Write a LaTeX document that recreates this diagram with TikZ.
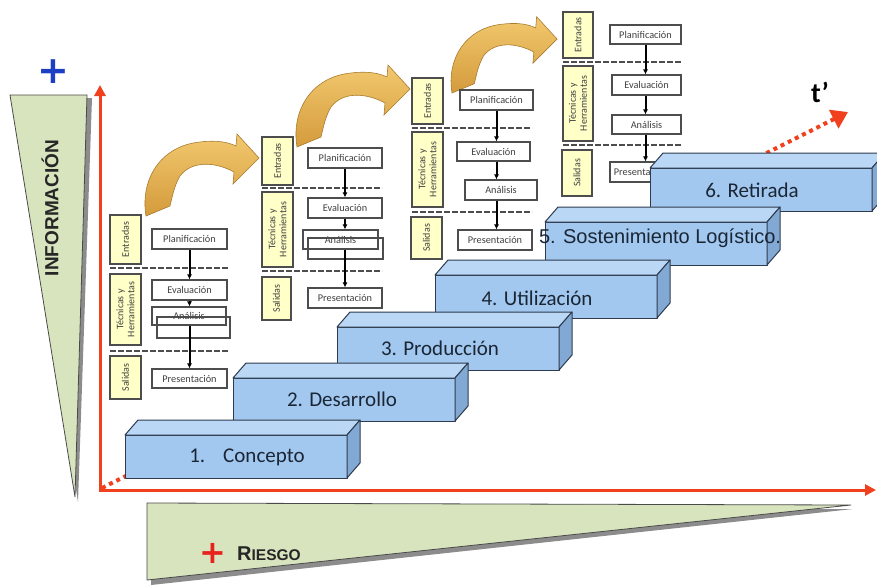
\documentclass[tikz,border=0pt]{standalone}
\usepackage{fontspec}
\setmainfont{Carlito}
\newfontfamily\arialfont{Liberation Sans}
\newfontfamily\dvfont{DejaVu Sans}
\usetikzlibrary{arrows.meta}
\definecolor{axisred}{HTML}{F0401E}
\definecolor{trifill}{HTML}{D7E4BD}
\definecolor{triedge}{HTML}{4A4A4A}
\definecolor{shadowgray}{HTML}{8C8C8C}
\definecolor{stepfront}{HTML}{A2C8F0}
\definecolor{steptop}{HTML}{BAD7F6}
\definecolor{stepside}{HTML}{82A9D4}
\definecolor{stepedge}{HTML}{2E3B4E}
\definecolor{steptext}{HTML}{1B2635}
\definecolor{boxedge}{HTML}{4D4D4D}
\definecolor{boxtext}{HTML}{404040}
\definecolor{labelfill}{HTML}{FFFFC8}
\definecolor{arrowlight}{HTML}{F2C86E}
\definecolor{arrowdark}{HTML}{D49B3C}
\definecolor{arrowedge}{HTML}{A87C30}
\definecolor{plusblue}{HTML}{1C3FC4}
\definecolor{plusred}{HTML}{E8231E}

\tikzset{
 procbox/.style={draw=boxedge, line width=1.1pt, fill=white, inner sep=0pt, text=boxtext, font=\fontsize{10.3}{12}\selectfont},
 ghostbox/.style={draw=boxedge, line width=1.1pt, inner sep=0pt},
 labelbox/.style={draw=boxedge, line width=1.1pt, fill=labelfill, inner sep=0pt, text=boxtext, rotate=90, align=center, font=\fontsize{10}{11}\selectfont},
 sepline/.style={draw=boxedge, line width=1.6pt, dash pattern=on 6pt off 2pt},
 flowarrow/.style={draw=black, line width=2pt, -{Latex[length=5pt,width=5pt]}},
 stepface/.style={draw=stepedge, line width=1pt, line join=round},
 steplabel/.style={text=steptext, font=\fontsize{21}{25}\selectfont},
 curvearrow/.style={draw=arrowedge, line width=0.6pt, top color=arrowlight, bottom color=arrowdark},
 axisline/.style={draw=axisred, line width=3pt},
}

\newcommand\pbox[6]{\node[procbox, minimum width={#4-#2}, minimum height={#5-#3}] (#1) at ({(#2+#4)/2},{(#3+#5)/2}) {#6};}
\newcommand\gbox[5]{\node[ghostbox, minimum width={#4-#2}, minimum height={#5-#3}] (#1) at ({(#2+#4)/2},{(#3+#5)/2}) {};}
\newcommand\lbox[6]{\node[labelbox, minimum width={#5-#3}, minimum height={#4-#2}] (#1) at ({(#2+#4)/2},{(#3+#5)/2}) {#6};}
\newcommand\curvedarrowshape{%
 \path[curvearrow] (0,0) .. controls (-6,-36) and (14,-70) .. (54,-74)
   .. controls (70,-76) and (82,-74) .. (90,-70) -- (91,-82) -- (113,-58) -- (87,-32) -- (88,-44)
   .. controls (70,-54) and (46,-56) .. (34,-40) .. controls (28,-30) and (26,-18) .. (24,-10) -- cycle;}

\begin{document}
\begin{tikzpicture}[x=1pt,y=-1pt]
\useasboundingbox (0,0) rectangle (877,584);
\clip (0,0) rectangle (877,584);

% left triangle
\fill[shadowgray] (14,98) -- (92,98) -- (78,502) -- cycle;
\filldraw[fill=trifill, draw=triedge, line width=0.8pt] (10,95) -- (87,95) -- (75,497) -- cycle;
\node[rotate=90, font=\arialfont\bfseries\fontsize{19}{22}\selectfont, text=black!85] (info) at (50,208) {INFORMACIÓN};
\node[text=plusblue, font=\dvfont\bfseries\fontsize{38}{38}\selectfont, inner sep=0] (plusb) at (53.5,71.5) {+};

% bottom triangle
\fill[shadowgray] (151,509) -- (853,509) -- (151,585) -- cycle;
\filldraw[fill=trifill, draw=triedge, line width=0.8pt] (147,503) -- (851,505) -- (147,580) -- cycle;
\node[text=plusred, font=\dvfont\bfseries\fontsize{32}{32}\selectfont, inner sep=0] (plusr) at (213,553) {+};
\node[anchor=west, inner sep=0, text=black!85] (riesgo) at (237,554) {\arialfont\bfseries\fontsize{20}{22}\selectfont R\fontsize{15.5}{22}\selectfont IESGO};

% axes
\draw[axisline, -{Triangle[length=11pt,width=11pt]}] (100,492) -- (100,85);
\draw[axisline, -{Triangle[length=11pt,width=11pt]}] (98.5,490) -- (876,490);
\draw[draw=axisred, line width=4pt, dash pattern=on 4pt off 4pt, -{Triangle[length=16pt,width=20pt]}] (102,488) -- (848,112);
\node[font=\bfseries\fontsize{28}{30}\selectfont] (tprime) at (820,92) {t’};

% curved arrows
\begin{scope}[shift={(146,216)}]\curvedarrowshape\end{scope}
\begin{scope}[shift={(297,147)}]\curvedarrowshape\end{scope}
\begin{scope}[shift={(452,93)}, scale=0.93]\curvedarrowshape\end{scope}

% group 1
\draw[sepline] (110,268) -- (229,268);
\draw[sepline] (110,351) -- (229,351);
\lbox{e1}{110}{215}{141}{264}{Entradas}
\lbox{t1}{110}{274}{141}{345}{Técnicas y\\Herramientas}
\lbox{o1}{110}{356}{141}{399}{Salidas}
\pbox{p1}{152}{229}{227}{249}{Planificación}
\pbox{v1}{152}{280}{227}{300}{Evaluación}
\pbox{a1}{152}{307}{226}{325}{Análisis}
\gbox{g1}{157}{317}{230}{338}
\pbox{r1}{152}{369}{227}{388}{Presentación}
\draw[flowarrow] (p1.south) -- (p1.south |- v1.north);
\draw[flowarrow] (v1.south -| p1.south) -- (p1.south |- a1.north);
\draw[flowarrow] (a1.south -| p1.south) -- (p1.south |- r1.north);

% group 2
\draw[sepline] (262,188) -- (382,188);
\draw[sepline] (262,271) -- (382,271);
\lbox{e2}{262}{137}{293}{185}{Entradas}
\lbox{t2}{262}{192}{293}{267}{Técnicas y\\Herramientas}
\lbox{o2}{262}{277}{291}{320}{Salidas}
\pbox{p2}{308}{148}{382}{168}{Planificación}
\pbox{v2}{308}{198}{382}{218}{Evaluación}
\pbox{a2}{303}{230}{378}{249}{Análisis}
\gbox{g2}{308}{238}{383}{259}
\pbox{r2}{308}{288}{382}{308}{Presentación}
\draw[flowarrow] (p2.south) -- (p2.south |- v2.north);
\draw[flowarrow] (v2.south -| p2.south) -- (p2.south |- a2.north);
\draw[flowarrow] (a2.south -| p2.south) -- (p2.south |- r2.north);

% group 3
\draw[sepline] (412,128) -- (532,128);
\draw[sepline] (412,212) -- (532,212);
\lbox{e3}{412}{78}{443}{124}{Entradas}
\lbox{t3}{412}{132}{443}{207}{Técnicas y\\Herramientas}
\lbox{o3}{411}{217}{442}{259}{Salidas}
\pbox{p3}{460}{90}{533}{110}{Planificación}
\pbox{v3}{457}{142}{530}{161}{Evaluación}
\pbox{a3}{465}{180}{537}{200}{Análisis}
\pbox{r3}{458}{230}{532}{250}{Presentación}
\draw[flowarrow] (p3.south) -- (p3.south |- v3.north);
\draw[flowarrow] (v3.south -| p3.south) -- (p3.south |- a3.north);
\draw[flowarrow] (a3.south -| p3.south) -- (p3.south |- r3.north);

% group 4
\draw[sepline] (563,62) -- (682,62);
\draw[sepline] (563,145) -- (682,145);
\lbox{e4}{563}{12}{593}{58}{Entradas}
\lbox{t4}{563}{66}{593}{141}{Técnicas y\\Herramientas}
\lbox{o4}{562}{150}{592}{196}{Salidas}
\pbox{p4}{610}{25}{681}{44}{Planificación}
\pbox{v4}{612}{75}{681}{95}{Evaluación}
\pbox{a4}{612}{115}{681}{134}{Análisis}
\pbox{r4}{610}{162}{672}{182}{Presentación}
\draw[flowarrow] (p4.south) -- (p4.south |- v4.north);
\draw[flowarrow] (v4.south -| p4.south) -- (p4.south |- a4.north);
\draw[flowarrow] (a4.south -| p4.south) -- (p4.south |- r4.north);

% stairs
\foreach \n/\sx/\sy/\lx/\ly/\txt in {
  6/650/168/752/190/{6. Retirada},
  5/545/222/660/238/{\arialfont\fontsize{20}{24}\selectfont 5. Sostenimiento Logístico.},
  4/435/275/537/298/{4. Utilización},
  3/337/327/440/348/{3. Producción},
  2/233/378/342/399/{2. Desarrollo},
  1/125/435/247/457/{1.\hspace{18pt}Concepto}}{
  \filldraw[stepface, fill=stepfront] (\sx,\sy) rectangle (\sx+222,\sy+43);
  \filldraw[stepface, fill=steptop] (\sx,\sy) -- (\sx+13,\sy-15) -- (\sx+235,\sy-15) -- (\sx+222,\sy) -- cycle;
  \filldraw[stepface, fill=stepside] (\sx+222,\sy) -- (\sx+235,\sy-15) -- (\sx+235,\sy+28) -- (\sx+222,\sy+43) -- cycle;
  \node[steplabel] (s\n) at (\lx,\ly) {\txt};
}
\end{tikzpicture}
\end{document}
